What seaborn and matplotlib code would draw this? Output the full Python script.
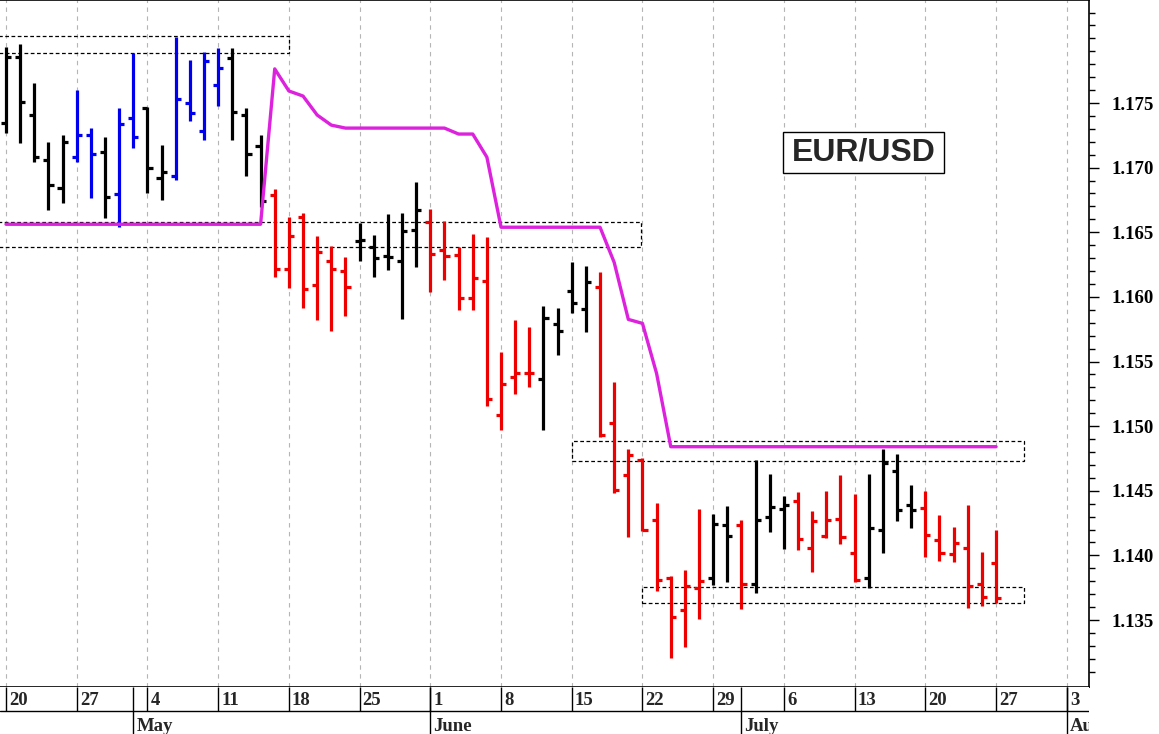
import numpy as np
import pandas as pd
import matplotlib
matplotlib.use("Agg")
import matplotlib.pyplot as plt
from matplotlib.patches import Rectangle
from matplotlib.ticker import FixedLocator, FormatStrFormatter
import seaborn as sns

OUTPUT_IMAGE_PATH = "out.png"
FIG_W, FIG_H = 1159, 734
DPI = 100

# daily EUR/USD bars, first bar on Monday 20 April
START_DATE = "2026-04-20"
AXIS_DAYS = 77  # trading days covered by the date axis

opens = [1.17345, 1.17857, 1.17407, 1.17058, 1.16841, 1.17081, 1.17252, 1.17120, 1.16795, 1.17384,
         1.17461, 1.16919, 1.16934, 1.17500, 1.17283, 1.17640, 1.17849, 1.17407, 1.17167, 1.16787,
         1.16213, 1.16616, 1.16089, 1.16275, 1.16198, 1.16430, 1.16384, 1.16314, 1.16275, 1.16515,
         1.16578, 1.16360, 1.16322, 1.15988, 1.16120, 1.15089, 1.15384, 1.15415, 1.15368, 1.15787,
         1.16043, 1.15903, 1.16074, 1.15027, 1.14624, 1.14740, 1.14275, 1.13826, 1.13577, 1.13748,
         1.13826, 1.14236, 1.14236, 1.13779, 1.14298, 1.14360, 1.14422, 1.14058, 1.14151, 1.14283,
         1.14019, 1.13826, 1.14198, 1.14655, 1.14391, 1.14368, 1.14120, 1.14012, 1.14058, 1.13779,
         1.13942]
highs = [1.17934, 1.17957, 1.17655, 1.17198, 1.17252, 1.17601, 1.17306, 1.17236, 1.17461, 1.17888,
         1.17469, 1.17174, 1.18012, 1.17833, 1.17895, 1.17926, 1.17926, 1.17461, 1.17252, 1.16833,
         1.16616, 1.16647, 1.16469, 1.16391, 1.16306, 1.16570, 1.16477, 1.16640, 1.16647, 1.16888,
         1.16678, 1.16585, 1.16384, 1.16484, 1.16461, 1.15570, 1.15818, 1.15764, 1.15926, 1.15911,
         1.16267, 1.16236, 1.16190, 1.15345, 1.14826, 1.14756, 1.14407, 1.13841, 1.13888, 1.14360,
         1.14322, 1.14384, 1.14275, 1.14740, 1.14632, 1.14461, 1.14492, 1.14345, 1.14500, 1.14624,
         1.14477, 1.14632, 1.14826, 1.14787, 1.14546, 1.14500, 1.14314, 1.14221, 1.14391, 1.14027,
         1.14198]
lows = [1.17267, 1.17190, 1.17043, 1.16671, 1.16725, 1.17043, 1.16764, 1.16609, 1.16539, 1.17151,
        1.16802, 1.16748, 1.16903, 1.17360, 1.17213, 1.17477, 1.17213, 1.16934, 1.16694, 1.16151,
        1.16066, 1.15911, 1.15818, 1.15740, 1.15849, 1.16275, 1.16151, 1.16205, 1.15826, 1.16229,
        1.16035, 1.16128, 1.15895, 1.15895, 1.15159, 1.14973, 1.15252, 1.15306, 1.14973, 1.15554,
        1.15872, 1.15725, 1.14919, 1.14484, 1.14143, 1.14190, 1.13725, 1.13205, 1.13291, 1.13508,
        1.13771, 1.13795, 1.13585, 1.13709, 1.14182, 1.14050, 1.14043, 1.13872, 1.14136, 1.14089,
        1.13795, 1.13748, 1.14019, 1.14267, 1.14213, 1.13988, 1.13957, 1.13950, 1.13593, 1.13608,
        1.13632]
closes = [1.17857, 1.17508, 1.17081, 1.16864, 1.17198, 1.17252, 1.17105, 1.16771, 1.17337, 1.17236,
          1.16996, 1.16965, 1.17531, 1.17422, 1.17826, 1.17771, 1.17430, 1.17105, 1.16740, 1.16213,
          1.16469, 1.16058, 1.16345, 1.16213, 1.16074, 1.16438, 1.16298, 1.16306, 1.16508, 1.16671,
          1.16329, 1.16314, 1.15988, 1.16143, 1.15213, 1.15329, 1.15415, 1.15415, 1.15833, 1.15740,
          1.15950, 1.16112, 1.14934, 1.14508, 1.14779, 1.14198, 1.13810, 1.13523, 1.13764, 1.13802,
          1.14244, 1.14151, 1.13779, 1.14275, 1.14376, 1.14391, 1.14128, 1.14267, 1.14275, 1.14143,
          1.13810, 1.14213, 1.14717, 1.14353, 1.14353, 1.14159, 1.14019, 1.14097, 1.13764, 1.13678,
          1.13670]

# trend state per bar: U = up (blue), D = down (red), N = neutral (black)
trend = list("NNNNNUUNUUNNUUUUNNNDDDDDDNNNNNDDDDDDDDNNNNDDDDDDDDNNDNNNDDDDDNNNNDDDDDD")

# trailing stop line (magenta)
stop = [1.16562, 1.16562, 1.16562, 1.16562, 1.16562, 1.16562, 1.16562, 1.16562, 1.16562, 1.16562,
        1.16562, 1.16562, 1.16562, 1.16562, 1.16562, 1.16562, 1.16562, 1.16562, 1.16562, 1.17764,
        1.17593, 1.17554, 1.17407, 1.17329, 1.17306, 1.17306, 1.17306, 1.17306, 1.17306, 1.17306,
        1.17306, 1.17306, 1.17260, 1.17260, 1.17081, 1.16539, 1.16539, 1.16539, 1.16539, 1.16539,
        1.16539, 1.16539, 1.16539, 1.16267, 1.15826, 1.15795, 1.15407, 1.14841, 1.14841, 1.14841,
        1.14841, 1.14841, 1.14841, 1.14841, 1.14841, 1.14841, 1.14841, 1.14841, 1.14841, 1.14841,
        1.14841, 1.14841, 1.14841, 1.14841, 1.14841, 1.14841, 1.14841, 1.14841, 1.14841, 1.14841,
        1.14841]

# dotted support / resistance zones (bar index from, bar index to, low, high)
zone_start = [-1, -1, 40, 45]
zone_end = [20, 44.9, 72, 72]
zone_low = [1.17888, 1.16384, 1.14733, 1.13632]
zone_high = [1.18019, 1.16578, 1.14888, 1.13756]

# labelled price levels on the right axis
price_labels = [1.135, 1.140, 1.145, 1.150, 1.155, 1.160, 1.165, 1.170, 1.175]

TITLE = "EUR/USD"
TREND_COLORS = {"U": "#0000ee", "D": "#ee0000", "N": "#000000"}
STOP_COLOR = "#dd22dd"


def main():
    sns.set_style("white")
    plt.rcParams['font.family'] = ['Liberation Serif', 'DejaVu Serif']
    plt.rcParams['font.weight'] = 'bold'

    fig = plt.figure(figsize=(FIG_W / DPI, FIG_H / DPI), dpi=DPI)
    fig.patch.set_facecolor('white')
    ax = fig.add_axes([0, 47 / FIG_H, 1089 / FIG_W, 687 / FIG_H])
    axd = fig.add_axes([0, 0, 1089 / FIG_W, 47 / FIG_H], sharex=ax)

    df = pd.DataFrame({"open": opens, "high": highs, "low": lows, "close": closes,
                       "stop": stop, "trend": trend})
    df["x"] = np.arange(len(df))
    bar_colors = df["trend"].map(TREND_COLORS)

    # OHLC bars
    ax.vlines(df["x"], df["low"], df["high"], colors=bar_colors, lw=2.3, zorder=3)
    ax.hlines(df["open"], df["x"] - 0.36, df["x"], colors=bar_colors, lw=2.3, zorder=3)
    ax.hlines(df["close"], df["x"], df["x"] + 0.36, colors=bar_colors, lw=2.3, zorder=3)

    # trailing stop
    sns.lineplot(data=df, x="x", y="stop", ax=ax, color=STOP_COLOR, linewidth=2.4, zorder=5)

    # dotted zones
    for x0, x1, lo, hi in zip(zone_start, zone_end, zone_low, zone_high):
        ax.add_patch(Rectangle((x0, lo), x1 - x0, hi - lo, fill=False, ec='black',
                               lw=0.9, ls=(0, (3, 2)), zorder=2))

    # date axis helpers
    axis_dates = pd.bdate_range(START_DATE, periods=AXIS_DAYS)
    idx = np.arange(AXIS_DAYS)
    mondays = idx[axis_dates.weekday == 0]
    month_starts = idx[np.r_[False, axis_dates.month[1:] != axis_dates.month[:-1]]]

    ax.set_xlim(-0.424, 76.57)
    ax.set_ylim(1.12982, 1.18297)
    ax.set_xticks(mondays)
    ax.tick_params(axis='x', bottom=False, labelbottom=False)
    ax.set_axisbelow(True)
    ax.grid(axis='x', color='#b5b5b5', ls=(0, (4, 4)), lw=0.8)
    ax.set_xlabel("")
    ax.set_ylabel("")

    # price axis on the right
    ax.yaxis.tick_right()
    ax.yaxis.set_major_locator(FixedLocator(price_labels))
    ax.yaxis.set_minor_locator(FixedLocator(np.arange(1.131, 1.1825, 0.001)))
    ax.yaxis.set_major_formatter(FormatStrFormatter('%.3f'))
    ax.tick_params(axis='y', which='major', right=True, left=False, direction='out',
                   length=7.5, width=1, pad=9, labelsize=13.5, colors='black')
    ax.tick_params(axis='y', which='minor', right=True, left=False, direction='out',
                   length=4.3, width=1, colors='black')

    for side in ['top', 'right', 'bottom']:
        ax.spines[side].set_visible(True)
        ax.spines[side].set_color('black')
        ax.spines[side].set_linewidth(1.2)
    ax.spines['left'].set_visible(False)

    # title box
    ax.add_patch(Rectangle((0.719, 0.748), 0.148, 0.060, transform=ax.transAxes,
                           fc='white', ec='black', lw=1, zorder=6))
    ax.text(0.793, 0.7775, TITLE, transform=ax.transAxes, ha='center', va='center',
            fontsize=23, fontweight='bold', family=['Liberation Sans', 'DejaVu Sans'],
            zorder=7)

    # two-row date axis
    split = (FIG_H - 711) / 47
    axd.set_ylim(0, 1)
    for side in axd.spines:
        axd.spines[side].set_visible(False)
    axd.tick_params(axis='both', bottom=False, left=False, labelbottom=False, labelleft=False)
    axd.grid(False)
    axd.axhline(split, color='black', lw=1)
    axd.vlines(mondays, split, 1, color='black', lw=1)
    axd.vlines(month_starts, 0, 1, color='black', lw=1)

    for m in mondays:
        axd.annotate(str(axis_dates[m].day), (m, (FIG_H - 705) / 47), xytext=(2.2, 0),
                     textcoords='offset points', ha='left', va='baseline',
                     fontsize=13.5, fontweight='bold', annotation_clip=False, clip_on=True)
    for m in month_starts:
        axd.annotate(axis_dates[m].strftime('%B'), (m, (FIG_H - 731) / 47), xytext=(2.2, 0),
                     textcoords='offset points', ha='left', va='baseline',
                     fontsize=13.5, fontweight='bold', annotation_clip=False, clip_on=True)

    fig.savefig(OUTPUT_IMAGE_PATH, dpi=DPI, facecolor='white')
    plt.close(fig)


if __name__ == "__main__":
    main()
